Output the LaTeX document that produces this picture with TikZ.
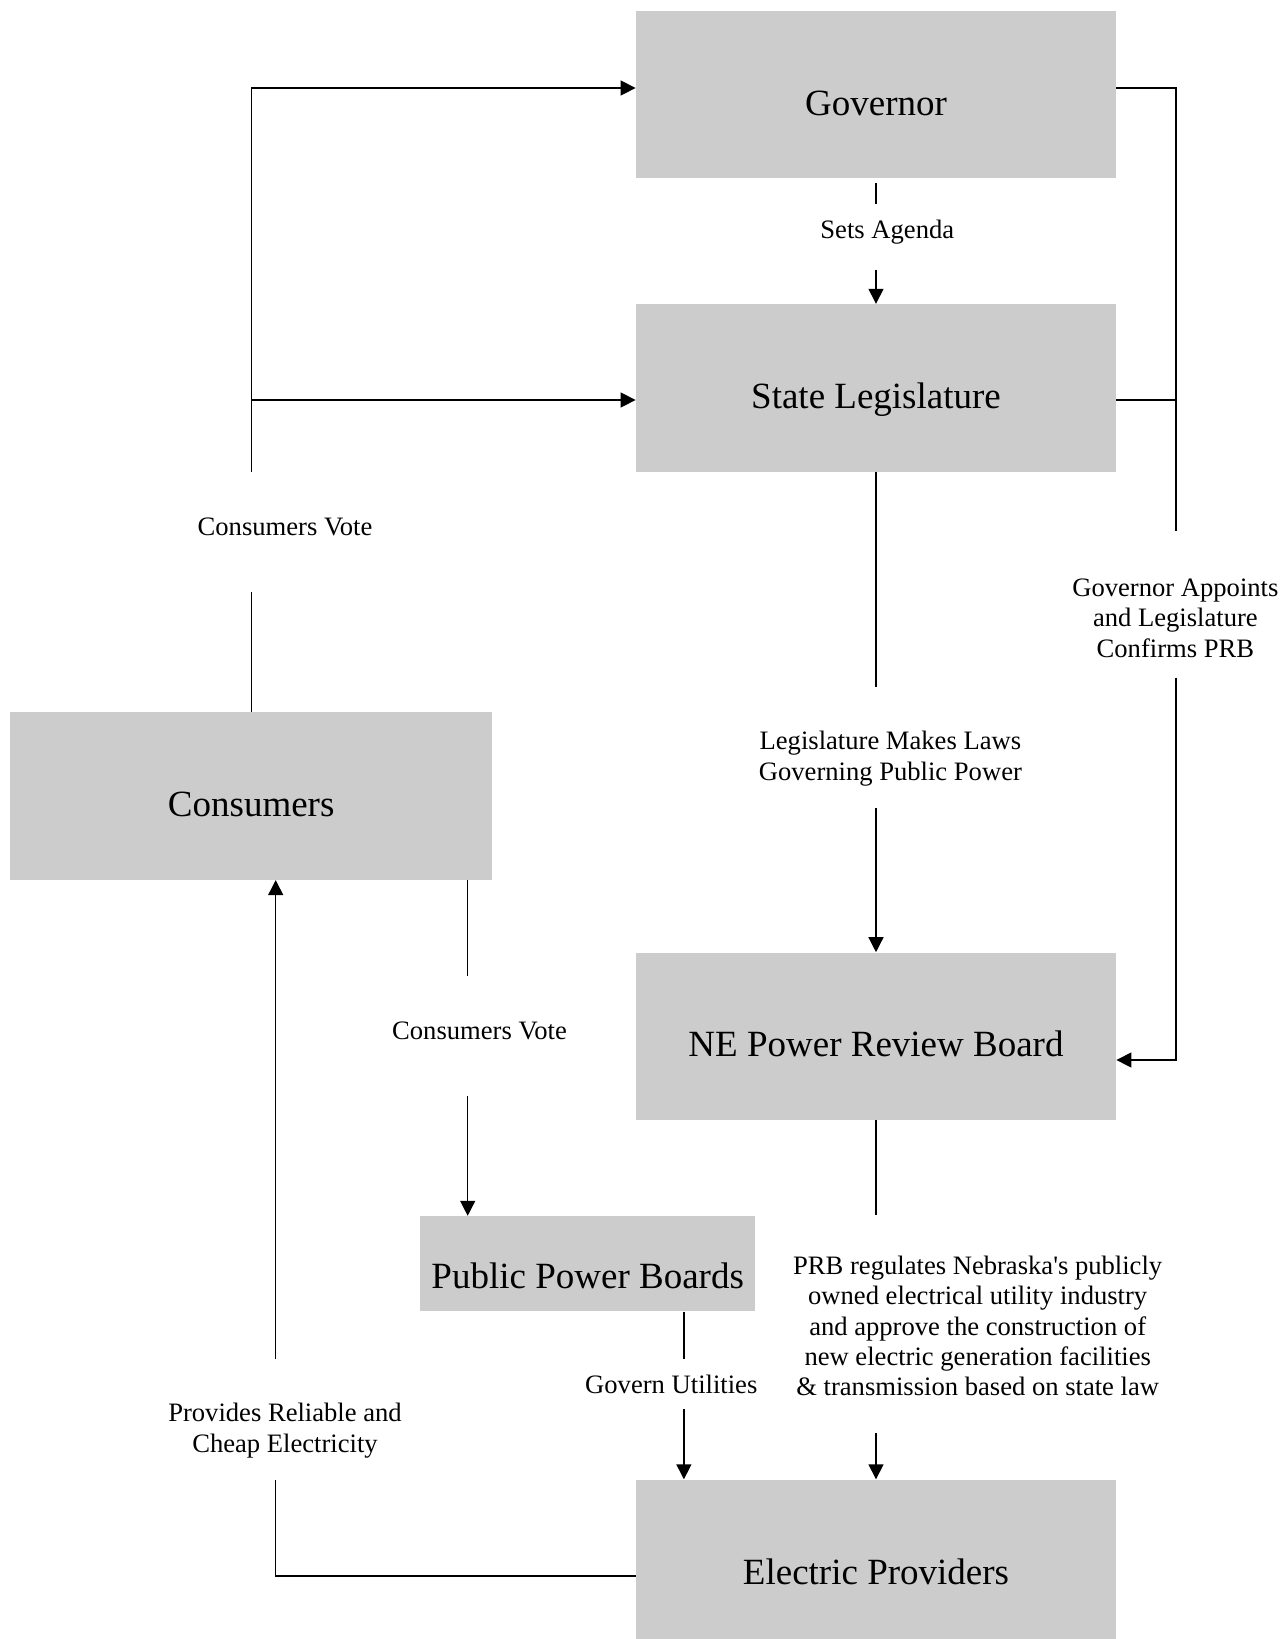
\documentclass[tikz,border=0pt]{standalone}
\usepackage{fontspec}
\setmainfont{Liberation Serif}
\usetikzlibrary{arrows.meta}
\definecolor{boxgray}{RGB}{204,204,204}

\begin{document}
\begin{tikzpicture}[x=0.5pt,y=-0.5pt,
  box/.style={fill=boxgray,draw=none,inner sep=0pt,minimum width=240pt,minimum height=83.7pt,
    text height=20.6pt,text depth=0pt,font=\fontsize{18.5}{22}\selectfont},
  lbl/.style={inner sep=0pt,align=center,font=\fontsize{13.3}{15.2}\selectfont},
  conn/.style={line width=0.7pt},
  arr/.style={conn,-{Triangle[length=7.5pt,width=7.5pt]}}]
\useasboundingbox (0,0) rectangle (1282,1639);

%Shape: Rectangle
\node (gov) [box] at (876,94.7) {Governor};
%Shape: Rectangle
\node (leg) [box] at (876,387.9) {State Legislature};
%Shape: Rectangle
\node (prb) [box] at (876,1036.3) {NE Power Review Board};
%Shape: Rectangle
\node (ep) [box] at (876,1563.4) {Electric Providers};
%Shape: Rectangle
\node (cons) [box,minimum width=240.75pt] at (251.2,796) {Consumers};
%Shape: Rectangle
\node (ppb) [box,minimum width=167.3pt,minimum height=47.5pt,text height=25.2pt] at (587.7,1263.7) {Public Power Boards};

% Text Node
\node (agendalbl) [lbl] at (887.3,232) {Sets Agenda};
% Text Node
\node (votelbl) [lbl] at (285,526.7) {Consumers Vote};
% Text Node
\node (apptlbl) [lbl] at (1175.4,618) {Governor Appoints\\and Legislature\\Confirms PRB};
% Text Node
\node (lawslbl) [lbl] at (890.4,758.7) {Legislature Makes Laws\\Governing Public Power};
% Text Node
\node (ppbvotelbl) [lbl] at (479.5,1031) {Consumers Vote};
% Text Node
\node (utillbl) [lbl] at (671.3,1384.5) {Govern Utilities};
% Text Node
\node (reglbl) [lbl] at (977.7,1326) {PRB regulates Nebraska\textquotesingle s publicly\\owned electrical utility industry\\and approve the construction of\\new electric generation facilities\\\& transmission based on state law};
% Text Node
\node (provlbl) [lbl] at (285,1430.5) {Provides Reliable and\\Cheap Electricity};

%Line ends beside the labels
\coordinate (agendaTop) at (876,204);
\coordinate (agendaBot) at (876,269.8);
\coordinate (voteTop) at (251.2,471.7);
\coordinate (voteBot) at (251.2,592);
\coordinate (apptTop) at (1176,531.2);
\coordinate (apptBot) at (1176,677.6);
\coordinate (lawsTop) at (876,687);
\coordinate (lawsBot) at (876,808.3);
\coordinate (ppbvoteTop) at (467.7,975.6);
\coordinate (ppbvoteBot) at (467.7,1095.9);
\coordinate (utilTop) at (683.9,1359.4);
\coordinate (utilBot) at (683.9,1408.6);
\coordinate (regTop) at (876,1215.1);
\coordinate (regBot) at (876,1432.6);
\coordinate (provTop) at (275.7,1359.4);
\coordinate (provBot) at (275.7,1479.7);
%Points where lines meet the box sides
\coordinate (govIn) at ([yshift=3.35pt]gov.west);
\coordinate (govOut) at ([yshift=3.35pt]gov.east);
\coordinate (legIn) at ([yshift=-6.05pt]leg.west);
\coordinate (legOut) at ([yshift=-6.05pt]leg.east);
\coordinate (prbIn) at ([yshift=-11.85pt]prb.east);
\coordinate (epOut) at ([yshift=-6.25pt]ep.west);

%Governor -> Legislature
\draw [conn,shorten <=2pt] (gov.south) -- (agendaTop);
\draw [arr] (agendaBot) -- (leg.north);
%Consumers vote for both
\draw [conn] (cons.north) -- (voteBot);
\draw [arr] (voteTop) |- (govIn);
\draw [arr] (voteTop |- legIn) -- (legIn);
%Appoints and confirms
\draw [conn] (govOut) -| (apptTop);
\draw [conn] (legOut) -- (legOut -| apptTop);
\draw [arr] (apptBot) |- (prbIn);
%Laws
\draw [conn] (leg.south) -- (lawsTop);
\draw [arr] (lawsBot) -- (prb.north);
%Consumers -> boards
\draw [conn] (ppbvoteTop |- cons.south) -- (ppbvoteTop);
\draw [arr] (ppbvoteBot) -- (ppbvoteBot |- ppb.north);
%Boards -> providers
\draw [conn] (utilTop |- ppb.south) -- (utilTop);
\draw [arr] (utilBot) -- (utilBot |- ep.north);
%PRB -> providers
\draw [conn] (prb.south) -- (regTop);
\draw [arr] (regBot) -- (ep.north);
%Providers -> consumers
\draw [conn] (epOut) -| (provBot);
\draw [arr] (provTop) -- (provTop |- cons.south);
\end{tikzpicture}
\end{document}
